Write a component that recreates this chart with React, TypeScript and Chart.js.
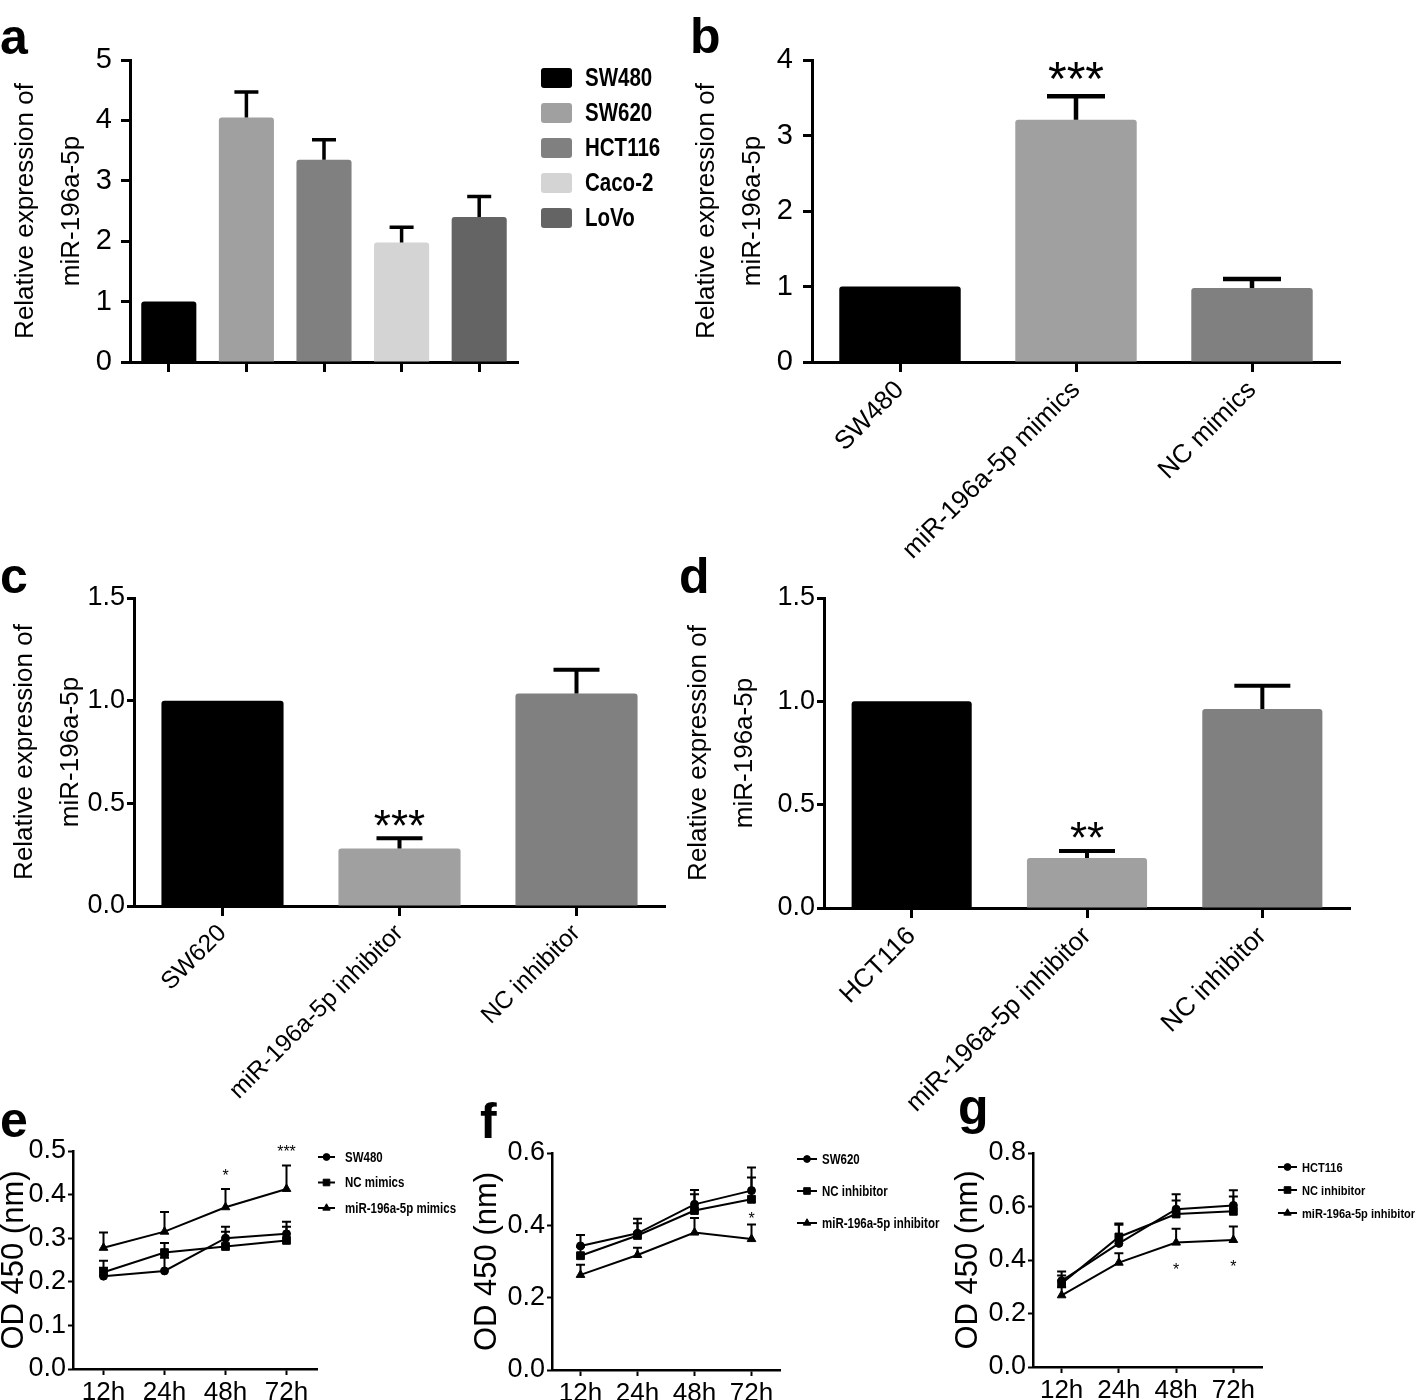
import React, { useEffect, useRef } from 'react';
import { Chart, registerables } from 'chart.js';
import { drawPoint } from 'chart.js/helpers';

Chart.register(...registerables);

const FONT = "'Liberation Sans', Arial, Helvetica, sans-serif";
const NARROW_SCALE = 0.82; // legend text is set in a condensed face; emulate by horizontal scaling

// ---------- panel a : expression across cell lines ----------
const cellLines = ['SW480', 'SW620', 'HCT116', 'Caco-2', 'LoVo'];
const cellLineExpr = [1.0, 4.05, 3.35, 1.98, 2.4];
const cellLineErr = [0, 0.42, 0.33, 0.25, 0.34];
const cellLineColors = ['#000000', '#a0a0a0', '#808080', '#d4d4d4', '#646464'];
const aTicks = [0, 1, 2, 3, 4, 5];

// ---------- panel b : mimics in SW480 ----------
const mimicGroups = ['SW480', 'miR-196a-5p mimics', 'NC mimics'];
const mimicExpr = [1.0, 3.21, 0.98];
const mimicErr = [0, 0.31, 0.12];
const mimicSig = ['', '***', ''];
const bTicks = [0, 1, 2, 3, 4];

// ---------- panel c : inhibitor in SW620 ----------
const sw620Groups = ['SW620', 'miR-196a-5p inhibitor', 'NC inhibitor'];
const sw620Expr = [1.0, 0.28, 1.035];
const sw620Err = [0, 0.05, 0.115];
const sw620Sig = ['', '***', ''];

// ---------- panel d : inhibitor in HCT116 ----------
const hctGroups = ['HCT116', 'miR-196a-5p inhibitor', 'NC inhibitor'];
const hctExpr = [1.0, 0.242, 0.963];
const hctErr = [0, 0.034, 0.112];
const hctSig = ['', '**', ''];
const cdTicks = [0, 0.5, 1.0, 1.5];

const groupColors = ['#000000', '#a0a0a0', '#808080'];

// ---------- panels e, f, g : CCK-8 time course ----------
const timePoints = ['12h', '24h', '48h', '72h'];

const eSW480 = [0.213, 0.225, 0.300, 0.310];
const eSW480Err = [0.035, 0.03, 0.026, 0.028];
const eNCmimics = [0.222, 0.267, 0.281, 0.295];
const eNCmimicsErr = [0.01, 0.022, 0.034, 0.031];
const eMimics = [0.278, 0.315, 0.371, 0.413];
const eMimicsErr = [0.035, 0.045, 0.042, 0.054];
const eMimicsSig = ['', '', '*', '***'];
const eTicks = [0, 0.1, 0.2, 0.3, 0.4, 0.5];

const fSW620 = [0.343, 0.378, 0.458, 0.496];
const fSW620Err = [0.03, 0.04, 0.04, 0.064];
const fNCinh = [0.316, 0.372, 0.441, 0.472];
const fNCinhErr = [0.025, 0.034, 0.045, 0.06];
const fInh = [0.263, 0.318, 0.38, 0.362];
const fInhErr = [0.028, 0.02, 0.04, 0.04];
const fInhSig = ['', '', '', '*'];
const fTicks = [0, 0.2, 0.4, 0.6];

const gHCT116 = [0.322, 0.462, 0.59, 0.604];
const gHCT116Err = [0.035, 0.07, 0.056, 0.057];
const gNCinh = [0.312, 0.486, 0.572, 0.582];
const gNCinhErr = [0.03, 0.05, 0.05, 0.055];
const gInh = [0.268, 0.39, 0.465, 0.475];
const gInhErr = [0.03, 0.035, 0.052, 0.05];
const gInhSig = ['', '', '*', '*'];
const gTicks = [0, 0.2, 0.4, 0.6, 0.8];

// ---------- plugins ----------
function narrowText(ctx: any, text: string, x: number, y: number, font: string) {
  ctx.save();
  ctx.font = font;
  ctx.textAlign = 'left';
  ctx.textBaseline = 'middle';
  ctx.translate(x, y);
  ctx.scale(NARROW_SCALE, 1);
  ctx.fillText(text, 0, 0);
  ctx.restore();
}

const errorBarPlugin = {
  id: 'errorBars',
  afterDatasetsDraw(chart: any, _a: any, opts: any) {
    const ctx = chart.ctx;
    const ys = chart.scales.y;
    chart.data.datasets.forEach((ds: any, i: number) => {
      const errs = ds.errorPlus;
      if (!errs) return;
      const meta = chart.getDatasetMeta(i);
      meta.data.forEach((el: any, j: number) => {
        const e = errs[j];
        if (!e) return;
        const v = ds.data[j];
        const y0 = ys.getPixelForValue(v);
        const y1 = ys.getPixelForValue(v + e);
        ctx.save();
        ctx.strokeStyle = '#000';
        ctx.lineWidth = opts.lineWidth;
        ctx.beginPath();
        ctx.moveTo(el.x, y0);
        ctx.lineTo(el.x, y1);
        ctx.moveTo(el.x - opts.capWidth / 2, y1);
        ctx.lineTo(el.x + opts.capWidth / 2, y1);
        ctx.stroke();
        ctx.restore();
      });
    });
  },
};

const sigPlugin = {
  id: 'sigMarks',
  afterDatasetsDraw(chart: any, _a: any, opts: any) {
    const ctx = chart.ctx;
    const ys = chart.scales.y;
    chart.data.datasets.forEach((ds: any, i: number) => {
      const marks = ds.sig;
      if (!marks) return;
      const meta = chart.getDatasetMeta(i);
      marks.forEach((t: string, j: number) => {
        if (!t) return;
        const el = meta.data[j];
        const v = ds.data[j];
        const e = (ds.errorPlus && ds.errorPlus[j]) || 0;
        const cy = opts.below
          ? ys.getPixelForValue(v) + opts.gap
          : ys.getPixelForValue(v + e) - opts.gap;
        ctx.save();
        ctx.fillStyle = '#000';
        ctx.font = `${opts.size}px ${FONT}`;
        ctx.textAlign = 'center';
        ctx.textBaseline = 'alphabetic';
        const m = ctx.measureText(t);
        const base = cy + (m.actualBoundingBoxAscent - m.actualBoundingBoxDescent) / 2;
        ctx.fillText(t, el.x, base);
        ctx.restore();
      });
    });
  },
};

const swatchLegendPlugin = {
  id: 'swatchLegend',
  afterDraw(chart: any, _a: any, opts: any) {
    const { ctx, chartArea } = chart;
    const ds = chart.data.datasets[0];
    chart.data.labels.forEach((lab: string, i: number) => {
      const x = chartArea.right + opts.dx;
      const yc = chartArea.top + opts.dy + i * opts.rowGap;
      ctx.save();
      ctx.fillStyle = ds.backgroundColor[i];
      ctx.beginPath();
      ctx.roundRect(x, yc - opts.boxH / 2, opts.boxW, opts.boxH, 3);
      ctx.fill();
      ctx.fillStyle = '#000';
      narrowText(ctx, lab, x + opts.textDx, yc + 1, `bold ${opts.size}px ${FONT}`);
      ctx.restore();
    });
  },
};

const lineLegendPlugin = {
  id: 'lineLegend',
  afterDraw(chart: any, _a: any, opts: any) {
    const { ctx, chartArea } = chart;
    chart.data.datasets.forEach((ds: any, i: number) => {
      const x0 = chartArea.right + opts.dx;
      const yc = chartArea.top + opts.dy + i * opts.rowGap;
      ctx.save();
      ctx.strokeStyle = '#000';
      ctx.fillStyle = '#000';
      ctx.lineWidth = 2;
      ctx.beginPath();
      ctx.moveTo(x0, yc);
      ctx.lineTo(x0 + opts.lineW, yc);
      ctx.stroke();
      ctx.lineWidth = 1;
      drawPoint(ctx, { pointStyle: ds.pointStyle, radius: ds.pointRadius * 0.85, rotation: 0, borderWidth: 1 } as any, x0 + opts.lineW / 2, yc);
      narrowText(ctx, ds.label, x0 + opts.textDx, yc + 1, `bold ${opts.size}px ${FONT}`);
      ctx.restore();
    });
  },
};

type Box = { left: number; top: number; width: number; height: number };
type Area = { left: number; top: number; right: number; bottom: number };

const BAR_TITLE_LH = 46;
const LINE_TITLE_LH = 28;

function barConfig(o: {
  labels: string[]; values: number[]; errors: number[]; sig?: string[]; colors: string[];
  yTicks: number[]; decimals: number; box: Box; area: Area; titleX: number;
  barFrac: number; capWidth: number; errWidth: number; yTickLen: number; yTickPad: number; yFont: number;
  xFont: number; showX: boolean; sigSize?: number; sigGap?: number; legend?: any;
}): any {
  const padL = o.titleX - o.box.left - BAR_TITLE_LH / 2;
  return {
    type: 'bar',
    data: {
      labels: o.labels,
      datasets: [{
        data: o.values, errorPlus: o.errors, sig: o.sig,
        backgroundColor: o.colors, borderWidth: 0, borderRadius: 3,
        barPercentage: o.barFrac, categoryPercentage: 1,
      }],
    },
    options: {
      responsive: false, animation: false, devicePixelRatio: 1, events: [],
      layout: { padding: { left: padL, top: o.area.top - o.box.top, right: o.box.left + o.box.width - o.area.right, bottom: 0 } },
      plugins: {
        legend: { display: false }, tooltip: { enabled: false },
        errorBars: { lineWidth: o.errWidth, capWidth: o.capWidth },
        sigMarks: { size: o.sigSize || 44, gap: o.sigGap || 20, below: false },
        swatchLegend: o.legend || false,
      },
      scales: {
        x: {
          offset: true,
          grid: { drawOnChartArea: false, offset: false, drawTicks: true, tickLength: 10, tickWidth: 3, tickColor: '#000' },
          border: { display: true, color: '#000', width: 3 },
          ticks: { display: o.showX, color: '#000', font: { family: FONT, size: o.xFont }, minRotation: 45, maxRotation: 45, autoSkip: false, padding: 3 },
          afterFit: (s: any) => { s.height = o.box.top + o.box.height - o.area.bottom; },
        },
        y: {
          min: 0, max: o.yTicks[o.yTicks.length - 1],
          afterBuildTicks: (s: any) => { s.ticks = o.yTicks.map((v) => ({ value: v })); },
          ticks: { color: '#000', font: { family: FONT, size: o.yFont }, padding: o.yTickPad, callback: (v: any) => Number(v).toFixed(o.decimals) },
          grid: { drawOnChartArea: false, drawTicks: true, tickLength: o.yTickLen, tickWidth: 3, tickColor: '#000' },
          border: { display: true, color: '#000', width: 3 },
          title: { display: true, text: ['Relative expression of', 'miR-196a-5p'], color: '#000', font: { family: FONT, size: 26, lineHeight: BAR_TITLE_LH + 'px' }, padding: 0 },
          afterFit: (s: any) => { s.width = o.area.left - o.box.left - padL; },
        },
      },
    },
    plugins: [errorBarPlugin, sigPlugin, swatchLegendPlugin],
  };
}

function lineDs(label: string, data: number[], err: number[], style: string, radius: number, sig?: string[]) {
  return {
    label, data, errorPlus: err, sig, pointStyle: style, pointRadius: radius,
    borderColor: '#000', backgroundColor: '#000', pointBackgroundColor: '#000', pointBorderColor: '#000',
    pointBorderWidth: 1, borderWidth: 2, tension: 0, fill: false,
  };
}

function lineConfig(o: {
  datasets: any[]; yTicks: number[]; box: Box; area: Area; titleX: number;
  sig: { size: number; gap: number; below: boolean }; legend: any;
}): any {
  const padL = o.titleX - o.box.left - LINE_TITLE_LH / 2;
  return {
    type: 'line',
    data: { labels: timePoints, datasets: o.datasets },
    options: {
      responsive: false, animation: false, devicePixelRatio: 1, events: [],
      layout: { padding: { left: padL, top: o.area.top - o.box.top, right: o.box.left + o.box.width - o.area.right, bottom: 0 } },
      plugins: {
        legend: { display: false }, tooltip: { enabled: false },
        errorBars: { lineWidth: 2, capWidth: 9 },
        sigMarks: o.sig,
        lineLegend: o.legend,
      },
      scales: {
        x: {
          type: 'category', offset: true,
          grid: { drawOnChartArea: false, offset: false, drawTicks: true, tickLength: 6, tickWidth: 2, tickColor: '#000' },
          border: { display: true, color: '#000', width: 2.5 },
          ticks: { color: '#000', font: { family: FONT, size: 26 }, maxRotation: 0, autoSkip: false, padding: 2 },
          afterFit: (s: any) => { s.height = o.box.top + o.box.height - o.area.bottom; },
        },
        y: {
          min: 0, max: o.yTicks[o.yTicks.length - 1],
          afterBuildTicks: (s: any) => { s.ticks = o.yTicks.map((v) => ({ value: v })); },
          ticks: { color: '#000', font: { family: FONT, size: 27 }, padding: 2, callback: (v: any) => Number(v).toFixed(1) },
          grid: { drawOnChartArea: false, drawTicks: true, tickLength: 5, tickWidth: 2, tickColor: '#000' },
          border: { display: true, color: '#000', width: 2.5 },
          title: { display: true, text: 'OD 450 (nm)', color: '#000', font: { family: FONT, size: 31, lineHeight: LINE_TITLE_LH + 'px' }, padding: 0 },
          afterFit: (s: any) => { s.width = o.area.left - o.box.left - padL; },
        },
      },
    },
    plugins: [errorBarPlugin, sigPlugin, lineLegendPlugin],
  };
}

// ---------- panel layouts ----------
const boxA: Box = { left: 0, top: 0, width: 700, height: 400 };
const areaA: Area = { left: 130, top: 60, right: 518, bottom: 362 };
const boxB: Box = { left: 670, top: 0, width: 748, height: 580 };
const areaB: Area = { left: 812, top: 60, right: 1340, bottom: 362 };
const boxC: Box = { left: 0, top: 560, width: 680, height: 560 };
const areaC: Area = { left: 134, top: 598, right: 665, bottom: 906 };
const boxD: Box = { left: 670, top: 560, width: 748, height: 560 };
const areaD: Area = { left: 824, top: 598, right: 1350, bottom: 908 };
const boxE: Box = { left: 0, top: 1090, width: 470, height: 310 };
const areaE: Area = { left: 73, top: 1151, right: 317, bottom: 1369 };
const boxF: Box = { left: 472, top: 1090, width: 478, height: 310 };
const areaF: Area = { left: 552, top: 1153, right: 780, bottom: 1370 };
const boxG: Box = { left: 950, top: 1090, width: 468, height: 310 };
const areaG: Area = { left: 1033, top: 1153, right: 1262, bottom: 1367 };

const panels: { box: Box; build: () => any }[] = [
  {
    box: boxA,
    build: () => barConfig({
      labels: cellLines, values: cellLineExpr, errors: cellLineErr, colors: cellLineColors,
      yTicks: aTicks, decimals: 0, box: boxA, area: areaA, titleX: 26, barFrac: 0.71,
      capWidth: 24, errWidth: 3.5, yTickLen: 9, yTickPad: 9, yFont: 29, xFont: 26, showX: false,
      legend: { dx: 23, dy: 18, rowGap: 35, boxW: 31, boxH: 20, textDx: 44, size: 25 },
    }),
  },
  {
    box: boxB,
    build: () => barConfig({
      labels: mimicGroups, values: mimicExpr, errors: mimicErr, sig: mimicSig, colors: groupColors,
      yTicks: bTicks, decimals: 0, box: boxB, area: areaB, titleX: 707, barFrac: 0.69,
      capWidth: 58, errWidth: 4.5, yTickLen: 9, yTickPad: 10, yFont: 29, xFont: 26, showX: true, sigSize: 48, sigGap: 26,
    }),
  },
  {
    box: boxC,
    build: () => barConfig({
      labels: sw620Groups, values: sw620Expr, errors: sw620Err, sig: sw620Sig, colors: groupColors,
      yTicks: cdTicks, decimals: 1, box: boxC, area: areaC, titleX: 25, barFrac: 0.69,
      capWidth: 46, errWidth: 4, yTickLen: 7, yTickPad: 2, yFont: 27, xFont: 24.5, showX: true, sigSize: 44, sigGap: 20,
    }),
  },
  {
    box: boxD,
    build: () => barConfig({
      labels: hctGroups, values: hctExpr, errors: hctErr, sig: hctSig, colors: groupColors,
      yTicks: cdTicks, decimals: 1, box: boxD, area: areaD, titleX: 699, barFrac: 0.685,
      capWidth: 56, errWidth: 4, yTickLen: 7, yTickPad: 2, yFont: 27, xFont: 26, showX: true, sigSize: 44, sigGap: 21,
    }),
  },
  {
    box: boxE,
    build: () => lineConfig({
      datasets: [
        lineDs('SW480', eSW480, eSW480Err, 'circle', 4),
        lineDs('NC mimics', eNCmimics, eNCmimicsErr, 'rect', 5.5),
        lineDs('miR-196a-5p mimics', eMimics, eMimicsErr, 'triangle', 5, eMimicsSig),
      ],
      yTicks: eTicks, box: boxE, area: areaE, titleX: 14,
      sig: { size: 16, gap: 17, below: false },
      legend: { dx: 1, dy: 6, rowGap: 25.5, lineW: 17, textDx: 27, size: 14 },
    }),
  },
  {
    box: boxF,
    build: () => lineConfig({
      datasets: [
        lineDs('SW620', fSW620, fSW620Err, 'circle', 4),
        lineDs('NC inhibitor', fNCinh, fNCinhErr, 'rect', 5.5),
        lineDs('miR-196a-5p inhibitor', fInh, fInhErr, 'triangle', 5, fInhSig),
      ],
      yTicks: fTicks, box: boxF, area: areaF, titleX: 487,
      sig: { size: 16, gap: 10, below: false },
      legend: { dx: 17, dy: 6, rowGap: 32, lineW: 20, textDx: 25, size: 14 },
    }),
  },
  {
    box: boxG,
    build: () => lineConfig({
      datasets: [
        lineDs('HCT116', gHCT116, gHCT116Err, 'circle', 4),
        lineDs('NC inhibitor', gNCinh, gNCinhErr, 'rect', 5.5),
        lineDs('miR-196a-5p inhibitor', gInh, gInhErr, 'triangle', 5, gInhSig),
      ],
      yTicks: gTicks, box: boxG, area: areaG, titleX: 968,
      sig: { size: 16, gap: 23, below: true },
      legend: { dx: 16, dy: 14, rowGap: 23, lineW: 19, textDx: 24, size: 13.5 },
    }),
  },
];

const panelLetters = [
  { t: 'a', x: 0, base: 54 },
  { t: 'b', x: 690, base: 53 },
  { t: 'c', x: 0, base: 593 },
  { t: 'd', x: 679, base: 593 },
  { t: 'e', x: 0, base: 1137 },
  { t: 'f', x: 480, base: 1138 },
  { t: 'g', x: 958, base: 1124 },
];

function ChartCanvas({ box, build }: { box: Box; build: () => any }) {
  const ref = useRef<HTMLCanvasElement>(null);
  useEffect(() => {
    const chart = new Chart(ref.current as HTMLCanvasElement, build());
    return () => chart.destroy();
  }, []);
  return (
    <canvas
      ref={ref}
      width={box.width}
      height={box.height}
      style={{ position: 'absolute', left: box.left, top: box.top, width: box.width, height: box.height }}
    />
  );
}

export default function App() {
  return (
    <div style={{ position: 'absolute', left: 0, top: 0, width: 1418, height: 1400, background: '#fff', overflow: 'hidden' }}>
      {panels.map((p, i) => (
        <ChartCanvas key={i} box={p.box} build={p.build} />
      ))}
      {panelLetters.map((l) => (
        <div
          key={l.t}
          style={{
            position: 'absolute', left: l.x, top: l.base - 42, fontFamily: FONT, fontWeight: 'bold',
            fontSize: 50, lineHeight: '50px', color: '#000',
          }}
        >
          {l.t}
        </div>
      ))}
    </div>
  );
}
